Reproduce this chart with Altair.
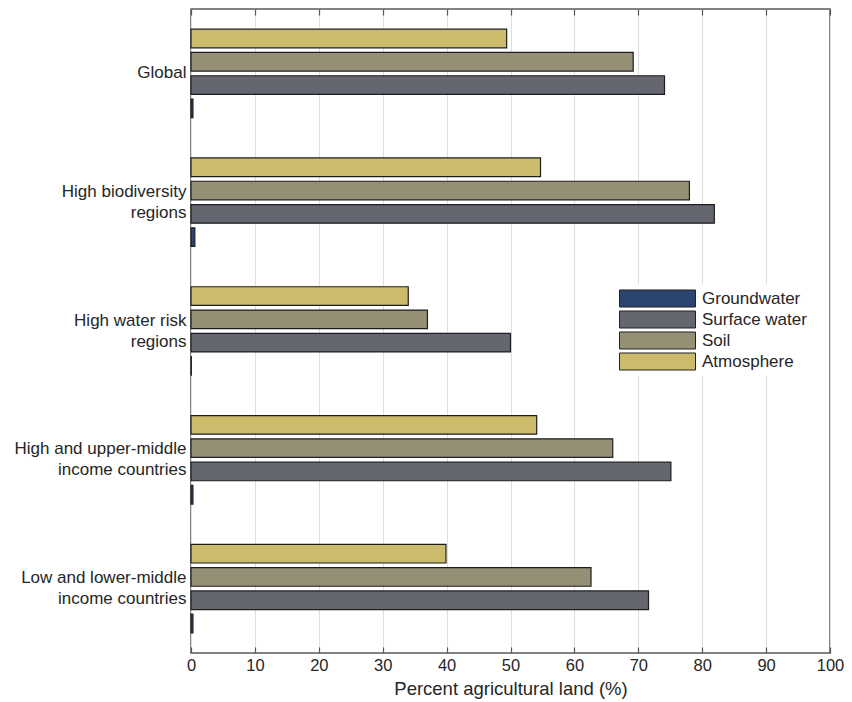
import altair as alt
import pandas as pd

categories = [
    "Global",
    "High biodiversity\nregions",
    "High water risk\nregions",
    "High and upper-middle\nincome countries",
    "Low and lower-middle\nincome countries",
]
series = ["Groundwater", "Surface water", "Soil", "Atmosphere"]
bar_order = ["Atmosphere", "Soil", "Surface water", "Groundwater"]
colors = ["#2C4470", "#64676F", "#958F75", "#CBBB6B"]

atmosphere = [49.4, 54.7, 34.0, 54.1, 39.9]
soil = [69.2, 78.0, 37.0, 66.0, 62.6]
surface_water = [74.1, 81.9, 50.0, 75.1, 71.6]
groundwater = [0.3, 0.6, 0.05, 0.3, 0.3]

ticks = [0, 10, 20, 30, 40, 50, 60, 70, 80, 90, 100]

rows = []
for i, c in enumerate(categories):
    rows.append({"region": c, "source": "Atmosphere", "value": atmosphere[i]})
    rows.append({"region": c, "source": "Soil", "value": soil[i]})
    rows.append({"region": c, "source": "Surface water", "value": surface_water[i]})
    rows.append({"region": c, "source": "Groundwater", "value": groundwater[i]})
df = pd.DataFrame(rows)
tick_df = pd.DataFrame({"t": ticks})

FONT = "Liberation Sans"
TXT = "#262626"

xscale = alt.Scale(domain=[0, 100], nice=False, zero=True)

bars = alt.Chart(df).mark_bar(stroke="#1e1e1e", strokeWidth=1.2).encode(
    x=alt.X(
        "value:Q",
        scale=xscale,
        axis=alt.Axis(
            values=ticks,
            title="Percent agricultural land (%)",
            titleFontSize=18.5,
            titleFontWeight="normal",
            titleColor=TXT,
            titleFont=FONT,
            titlePadding=6,
            labelFont=FONT,
            labelFontSize=16.5,
            labelColor=TXT,
            labelPadding=4,
            labelFlush=False,
            offset=-6,
            tickSize=6,
            tickColor="#555555",
            tickWidth=1.2,
            domain=False,
            grid=True,
            gridColor="#dedede",
            gridWidth=1,
        ),
    ),
    y=alt.Y(
        "region:N",
        sort=categories,
        scale=alt.Scale(paddingInner=0, paddingOuter=0),
        axis=alt.Axis(
            title=None,
            ticks=False,
            domain=False,
            labelExpr="split(datum.label, '\\n')",
            labelOffset={
                "condition": {"test": "indexof(datum.label, '\\n') >= 0", "value": -10.5},
                "value": 0,
            },
            labelFont=FONT,
            labelFontSize=17,
            labelColor=TXT,
            labelLineHeight=21,
            labelPadding=5,
            labelLimit=300,
        ),
    ),
    yOffset=alt.YOffset(
        "source:N",
        sort=bar_order,
        scale=alt.Scale(paddingInner=0.2, paddingOuter=0.865),
    ),
    color=alt.Color(
        "source:N",
        scale=alt.Scale(domain=series, range=colors),
        legend=alt.Legend(
            title=None,
            orient="none",
            legendX=424,
            legendY=275,
            fillColor="white",
            padding=4,
            symbolType="M-1,-0.2237H1V0.2237H-1Z",
            symbolSize=5776,
            symbolStrokeColor="#222222",
            symbolStrokeWidth=1,
            symbolOpacity=1,
            clipHeight=21,
            rowPadding=0,
            labelFont=FONT,
            labelFontSize=17,
            labelColor=TXT,
            labelOffset=6,
        ),
    ),
)

top_ticks = alt.Chart(tick_df).mark_point(opacity=0).encode(
    x=alt.X(
        "t:Q",
        scale=xscale,
        axis=alt.Axis(
            orient="top",
            values=ticks,
            labels=False,
            title=None,
            domain=False,
            grid=False,
            offset=-6,
            tickSize=6,
            tickColor="#555555",
            tickWidth=1.2,
        ),
    ),
)

chart = (
    alt.layer(bars, top_ticks)
    .resolve_scale(x="shared")
    .resolve_axis(x="independent")
    .properties(width=639, height=644, padding={"left": 6, "top": 0, "right": 0, "bottom": 4})
    .configure_view(stroke="#5a5a5a", strokeWidth=1.5)
)

chart.save("out.html", embed_options={"renderer": "svg", "actions": False})
